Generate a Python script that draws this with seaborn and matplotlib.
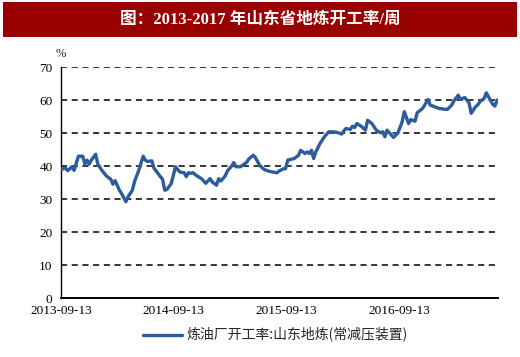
import numpy as np
import pandas as pd
import matplotlib
matplotlib.use('Agg')
import matplotlib.pyplot as plt
import matplotlib.patches as mpatches
import seaborn as sns

# weekly series, week offset from 2013-09-13
weeks = [0, 2, 3, 5, 6, 8, 10, 11, 12, 13, 14, 16, 17, 19, 21, 23, 24, 25, 27, 28,
         30, 31, 33, 34, 36, 38, 39, 40, 42, 43, 46, 47, 48, 49, 51, 53, 55, 57, 58, 59,
         60, 61, 63, 65, 66, 67, 69, 70, 72, 73, 74, 76, 77, 79, 80, 81, 83, 84, 86, 87,
         89, 90, 92, 94, 96, 98, 100, 101, 103, 104, 105, 108, 110, 111, 113, 114, 115, 116, 117, 118,
         120, 122, 124, 126, 128, 130, 131, 132, 134, 135, 136, 137, 139, 141, 142, 144, 146, 148, 149, 150,
         151, 153, 154, 156, 158, 159, 161, 162, 164, 165, 167, 168, 170, 171, 173, 175, 178, 179, 181, 182,
         184, 185, 187, 189, 190, 192, 193, 194, 196, 197, 199, 200, 201, 202]
rate = [39.0, 39.4, 38.6, 39.8, 38.7, 43.0, 43.0, 40.6, 41.8, 40.6, 41.8, 43.6, 40.6, 38.6, 37.0, 36.0, 34.5, 35.6, 32.7, 31.7,
        29.2, 30.7, 32.7, 35.3, 38.8, 43.0, 41.8, 41.4, 41.6, 39.4, 36.8, 36.0, 32.7, 32.9, 34.7, 39.8, 38.2, 38.0, 36.8, 38.0,
        37.8, 38.0, 37.0, 36.2, 35.5, 34.8, 36.2, 35.2, 34.2, 36.2, 35.5, 37.0, 38.5, 40.0, 41.1, 39.8, 39.8, 40.2, 41.2, 42.2,
        43.3, 42.6, 40.2, 39.0, 38.5, 38.2, 38.0, 38.5, 39.2, 39.2, 41.8, 42.3, 43.3, 44.8, 43.8, 44.3, 43.8, 44.8, 42.3, 44.3,
        46.9, 48.9, 50.4, 50.4, 50.2, 49.7, 50.7, 51.4, 51.1, 52.1, 51.7, 52.9, 52.1, 50.9, 53.9, 52.9, 50.9, 50.1, 50.4, 48.9,
        50.9, 49.4, 48.7, 50.0, 53.4, 56.5, 52.9, 54.1, 53.6, 56.2, 57.2, 58.0, 60.2, 58.5, 58.0, 57.5, 57.2, 57.2, 58.5, 59.8,
        61.5, 60.2, 60.8, 59.2, 56.0, 58.0, 58.5, 59.5, 60.5, 62.2, 59.9, 58.7, 58.2, 60.0]
tick_labels = ['2013-09-13', '2014-09-13', '2015-09-13', '2016-09-13']
series_name = '炼油厂开工率:山东地炼(常减压装置)'
title = '图：2013-2017 年山东省地炼开工率/周'

start = pd.Timestamp('2013-09-13')
df = pd.DataFrame({'date': start + pd.to_timedelta(np.array(weeks) * 7, unit='D'),
                   'rate': rate})

sns.set_style('white')
plt.rcParams['font.family'] = ['Liberation Serif', 'Noto Sans CJK SC', 'DejaVu Sans']

fig = plt.figure(figsize=(5.2, 3.57), dpi=100)
ax = fig.add_axes([0.117, 0.165, 0.841, 0.647])

# title bar
fig.patches.append(mpatches.Rectangle((0.006, 0.896), 0.988, 0.098, transform=fig.transFigure,
                                      facecolor='#990000', edgecolor='none'))
fig.text(0.5, 0.945, title, color='white', ha='center', va='center', fontsize=12,
         fontweight='bold', family=['Liberation Serif', 'Noto Sans CJK SC'])

for v in range(10, 71, 10):
    ax.axhline(v, color='black', linestyle=(0, (4, 3)), linewidth=1.1, zorder=1)

sns.lineplot(data=df, x='date', y='rate', ax=ax, color='#2C5C9C', linewidth=2.4,
             label=series_name, zorder=3)

ax.set_ylim(0, 70)
ax.set_yticks(range(0, 71, 10))
ax.set_xlim(start - pd.Timedelta(days=1), start + pd.Timedelta(days=202.5 * 7))
ax.set_xticks(pd.to_datetime(tick_labels))
ax.set_xticklabels(tick_labels)
ax.set_xlabel('')
ax.set_ylabel('')
ax.tick_params(axis='x', length=4, width=1, direction='inout', labelsize=9.5, colors='black', pad=3)
ax.tick_params(axis='y', length=0, labelsize=9.5, colors='black', pad=6)
for s in ['top', 'right']:
    ax.spines[s].set_visible(False)
ax.spines['left'].set_color('black')
ax.spines['left'].set_linewidth(1.0)
ax.spines['bottom'].set_color('black')
ax.spines['bottom'].set_linewidth(1.4)
ax.grid(False)

fig.text(0.117, 0.848, '%', ha='center', va='center', fontsize=9)

ax.legend(loc='center', bbox_to_anchor=(0.53, 0.062), bbox_transform=fig.transFigure, frameon=False,
          handlelength=2.8, handletextpad=0.3,
          prop={'family': ['Noto Sans CJK SC'], 'size': 10})

fig.savefig('out.png', dpi=100)
